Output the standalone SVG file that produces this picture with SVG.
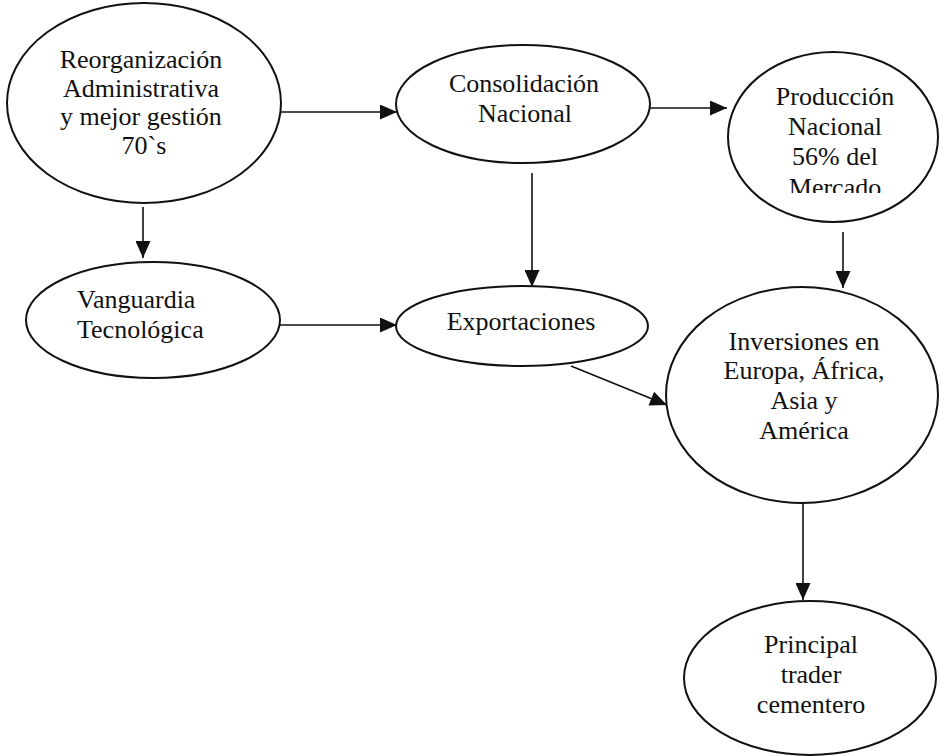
<svg xmlns="http://www.w3.org/2000/svg" width="939" height="756" viewBox="0 0 939 756">
<style>
.n{fill:#fff;stroke:#111;stroke-width:2}
.t{font-family:"Liberation Serif","Times New Roman",serif;font-size:26px;fill:#111;text-anchor:middle}
.l{text-anchor:start}
.c{stroke:#111;stroke-width:1.6;fill:none;marker-end:url(#ah)}
</style>
<defs>
<marker id="ah" markerUnits="userSpaceOnUse" markerWidth="17" markerHeight="15" refX="17" refY="7.5" orient="auto">
<path d="M0,0 L17,7.5 L0,15 z" fill="#111"/>
</marker>
<clipPath id="clipP"><rect x="700" y="40" width="239" height="153"/></clipPath>
</defs>
<rect width="939" height="756" fill="#fff"/>
<g id="connectors">
<line class="c" x1="281" y1="112" x2="397" y2="112"/>
<line class="c" x1="650" y1="108" x2="727" y2="108"/>
<line class="c" x1="143" y1="207" x2="143" y2="258"/>
<line class="c" x1="532" y1="173" x2="532" y2="287"/>
<line class="c" x1="843" y1="232" x2="843" y2="288"/>
<line class="c" x1="280" y1="325" x2="397" y2="325"/>
<line class="c" x1="571" y1="366" x2="667" y2="405"/>
<line class="c" x1="803" y1="503" x2="803" y2="600"/>
</g>
<g id="reorganizacion">
<ellipse class="n" cx="144" cy="103" rx="137" ry="100"/>
<text class="t" x="141" y="68">Reorganización</text>
<text class="t" x="141" y="97">Administrativa</text>
<text class="t" x="141" y="125">y mejor gestión</text>
<text class="t" x="144" y="154">70`s</text>
</g>
<g id="consolidacion">
<ellipse class="n" cx="523" cy="104" rx="127" ry="59"/>
<text class="t" x="524" y="92">Consolidación</text>
<text class="t" x="525" y="122">Nacional</text>
</g>
<g id="produccion">
<ellipse class="n" cx="833" cy="137" rx="105" ry="85"/>
<g clip-path="url(#clipP)">
<text class="t" x="835" y="105">Producción</text>
<text class="t" x="835" y="135">Nacional</text>
<text class="t" x="835" y="165">56% del</text>
<text class="t" x="835" y="196">Mercado</text>
</g>
</g>
<g id="vanguardia">
<ellipse class="n" cx="153" cy="320" rx="127" ry="58"/>
<text class="t l" x="77" y="308">Vanguardia</text>
<text class="t l" x="77" y="338">Tecnológica</text>
</g>
<g id="exportaciones">
<ellipse class="n" cx="522" cy="326" rx="126" ry="40"/>
<text class="t" x="521" y="330">Exportaciones</text>
</g>
<g id="inversiones">
<ellipse class="n" cx="802" cy="395" rx="136" ry="108"/>
<text class="t" x="804" y="350">Inversiones en</text>
<text class="t" x="804" y="379">Europa, África,</text>
<text class="t" x="804" y="409">Asia y</text>
<text class="t" x="804" y="439">América</text>
</g>
<g id="principal">
<ellipse class="n" cx="810" cy="678" rx="126" ry="77"/>
<text class="t" x="811" y="653">Principal</text>
<text class="t" x="811" y="683">trader</text>
<text class="t" x="811" y="713">cementero</text>
</g>
</svg>
